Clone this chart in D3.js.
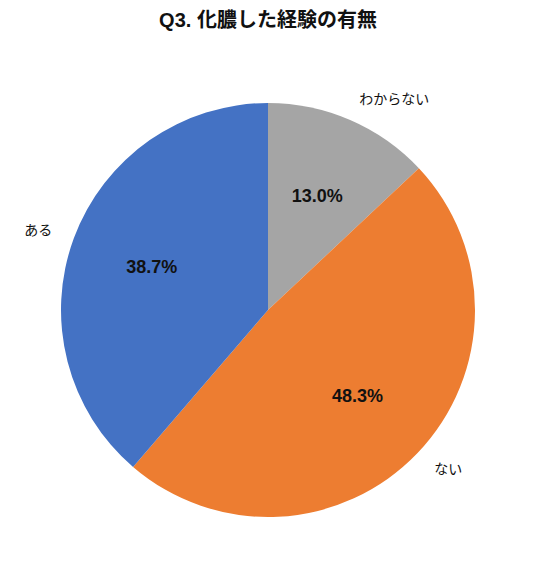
<!DOCTYPE html>
<html><head><meta charset="utf-8">
<script src="https://cdn.jsdelivr.net/npm/d3@7/dist/d3.min.js"></script>
<style>body{margin:0;background:#fff;} text{font-family:"Liberation Sans","Noto Sans CJK JP",sans-serif;}</style>
</head><body>
<svg id="c" width="536" height="578"></svg>
<script>
const categories = ["わからない", "ない", "ある"];
const values = [13.0, 48.3, 38.7];
const colors = ["#A5A5A5", "#ED7D31", "#4472C4"];
const title = "Q3. 化膿した経験の有無";

const svg = d3.select("#c");
const W = 536, H = 578;
const cx = 268, cy = 310, R = 207;

svg.append("text").attr("x", cx).attr("y", 27).attr("text-anchor", "middle")
  .attr("font-size", 20).attr("font-weight", "bold").attr("fill", "#111").text(title);

const data = categories.map((c, i) => ({cat: c, v: values[i], col: colors[i]}));
const pie = d3.pie().value(d => d.v).sort(null);
const arcs = pie(data);
const arc = d3.arc().innerRadius(0).outerRadius(R);
const inArc = d3.arc().innerRadius(124).outerRadius(124);
const outArc = d3.arc().innerRadius(230).outerRadius(230);

const g = svg.append("g").attr("transform", `translate(${cx},${cy})`);
g.selectAll("path").data(arcs).join("path").attr("d", arc).attr("fill", d => d.data.col);

g.selectAll("text.pct").data(arcs).join("text").attr("class", "pct")
  .attr("transform", d => `translate(${inArc.centroid(d)})`)
  .attr("text-anchor", "middle").attr("dominant-baseline", "central")
  .attr("font-size", 18).attr("font-weight", "bold").attr("fill", "#111")
  .text(d => d.data.v.toFixed(1) + "%");

g.selectAll("text.lab").data(arcs).join("text").attr("class", "lab")
  .attr("transform", d => `translate(${outArc.centroid(d)})`)
  .attr("text-anchor", d => ((d.startAngle + d.endAngle) / 2 < Math.PI) ? "start" : "end")
  .attr("dominant-baseline", "central")
  .attr("font-size", 14).attr("fill", "#111")
  .text(d => d.data.cat);
</script>
</body></html>
